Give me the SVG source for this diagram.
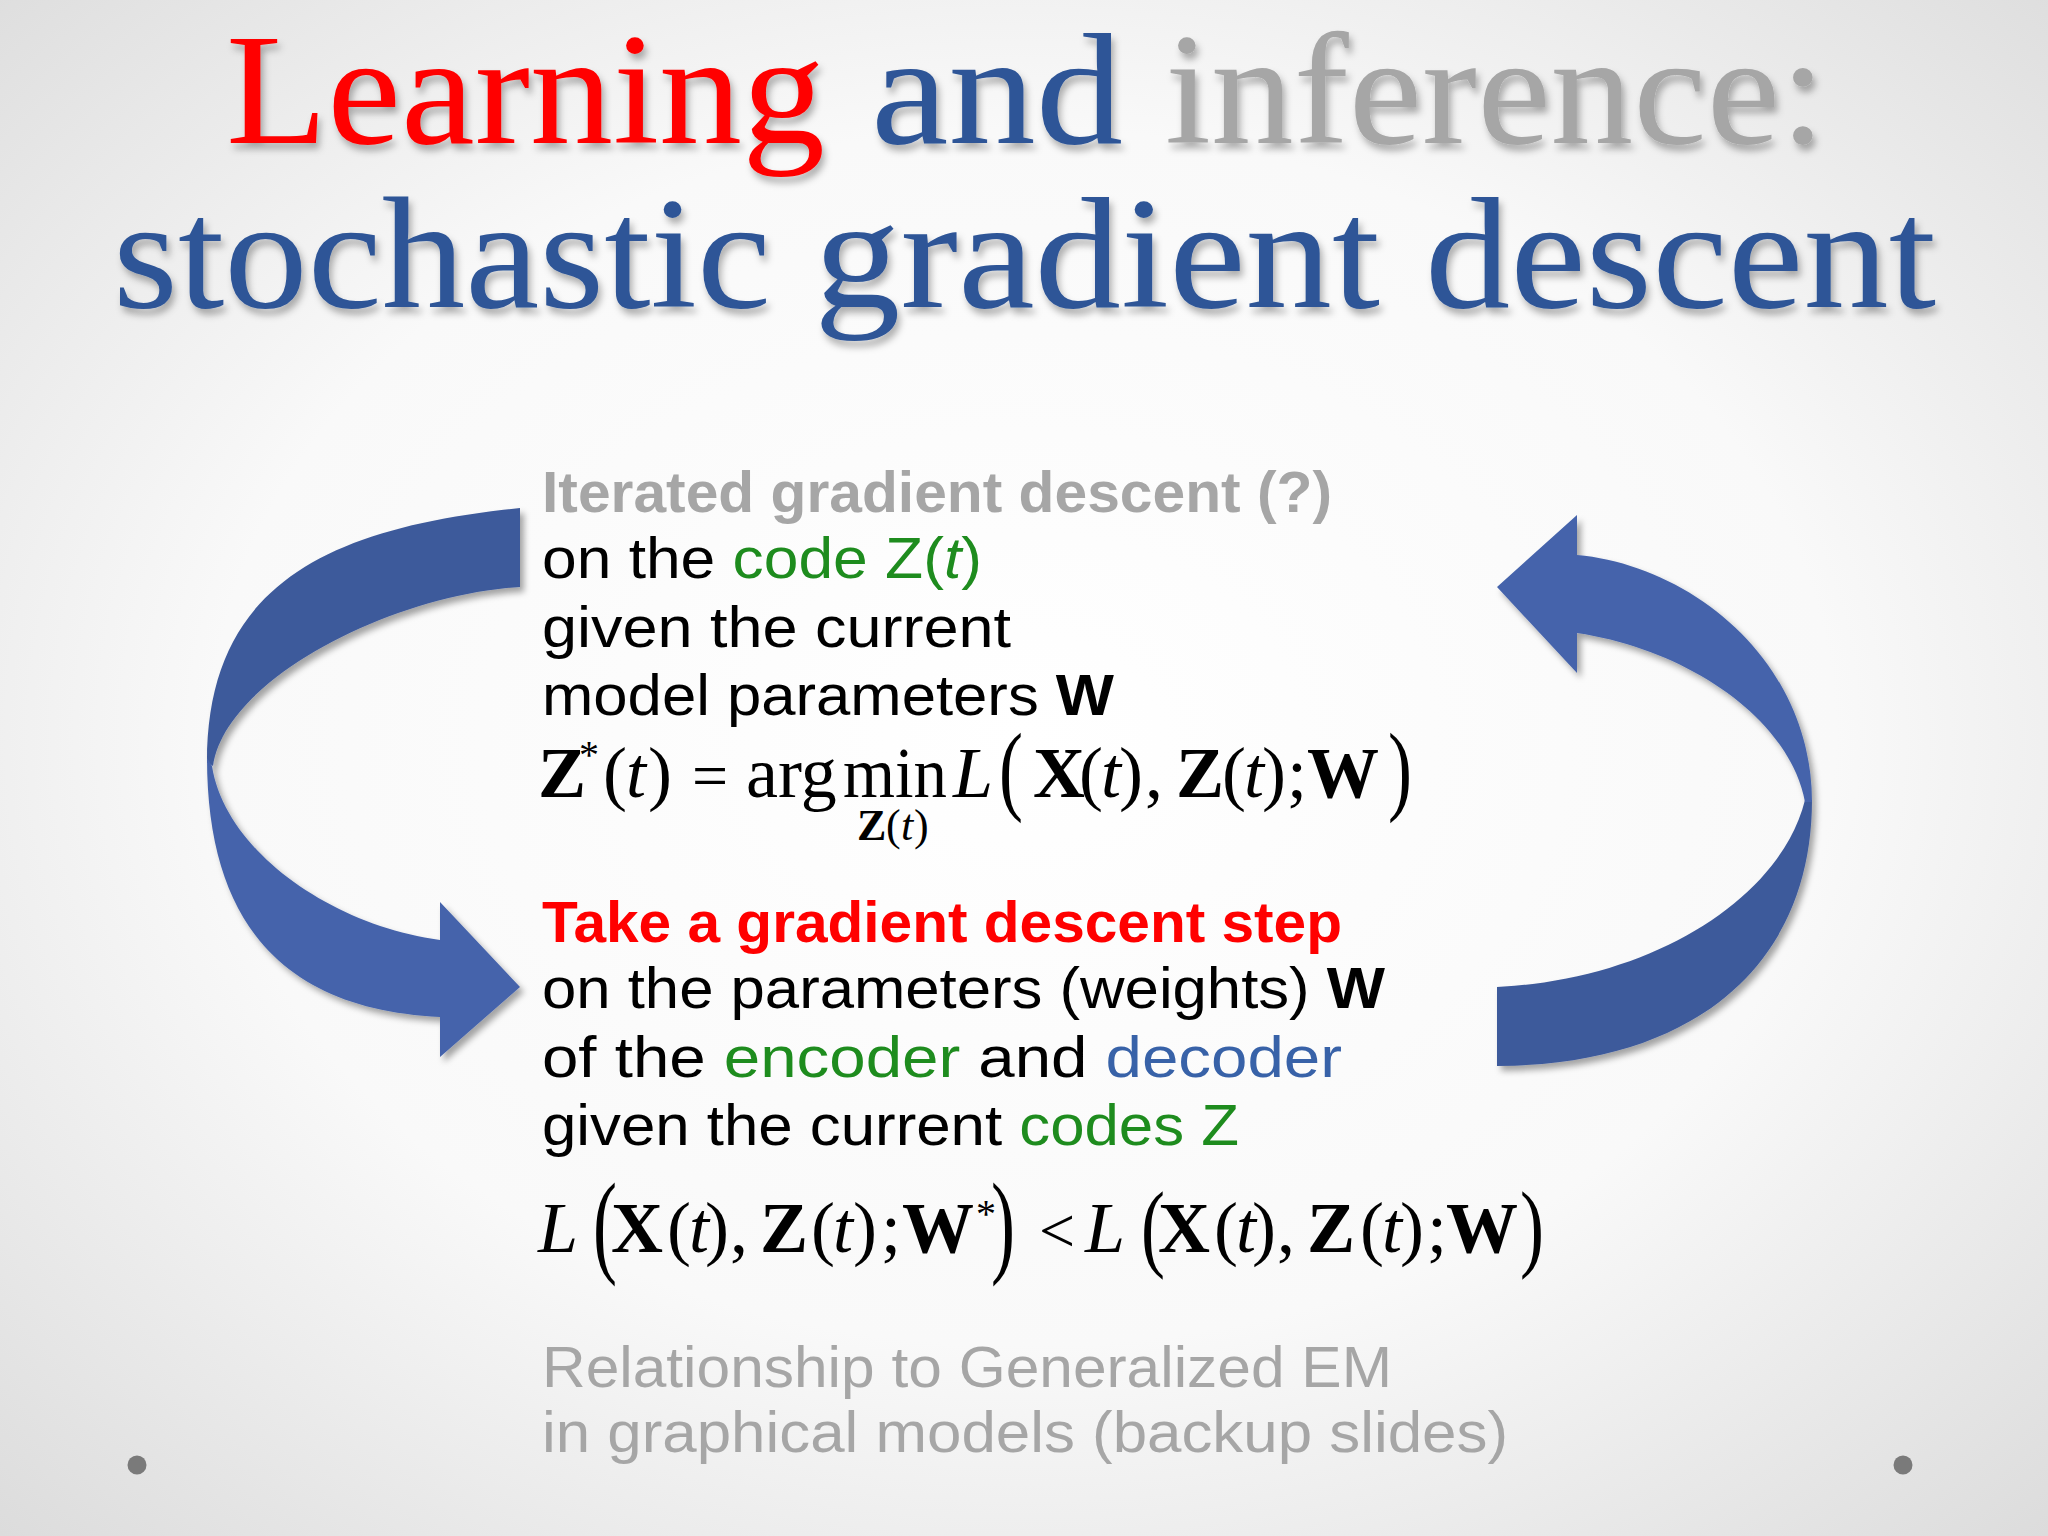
<svg xmlns="http://www.w3.org/2000/svg" width="2048" height="1536" viewBox="0 0 2048 1536">
  <defs>
    <radialGradient id="bg" cx="50%" cy="48%" r="72%">
      <stop offset="0" stop-color="#ffffff"/>
      <stop offset="0.55" stop-color="#f9f9f9"/>
      <stop offset="1" stop-color="#dcdcdc"/>
    </radialGradient>
    <filter id="tshadow" x="-5%" y="-20%" width="110%" height="150%">
      <feDropShadow dx="3" dy="6" stdDeviation="3.5" flood-color="#000" flood-opacity="0.3"/>
    </filter>
    <filter id="ashadow" x="-10%" y="-10%" width="130%" height="130%">
      <feDropShadow dx="4" dy="5" stdDeviation="3" flood-color="#000" flood-opacity="0.35"/>
    </filter>
    <style>
      .title { font-family: "Liberation Serif", "Times New Roman", serif; font-size: 158px; }
      .body { font-family: "Liberation Sans", Arial, sans-serif; font-size: 58px; fill: #000; }
      .eq { font-family: "Liberation Serif", "Times New Roman", serif; font-size: 72px; fill: #000; }
      .sup { font-family: "Liberation Serif", "Times New Roman", serif; font-size: 40px; fill: #000; }
      .sub { font-family: "Liberation Serif", "Times New Roman", serif; font-size: 44px; fill: #000; }
      .b { font-weight: bold; }
      .i { font-style: italic; }
      .green { fill: #1e8c1e; }
      .blue { fill: #3862a8; }
      .gray { fill: #a6a6a6; }
      .red { fill: #ff0000; }
      .back { fill: #3e5a9b; }
      .front { fill: #4563ab; }
    </style>
  </defs>

  <rect x="0" y="0" width="2048" height="1536" fill="url(#bg)"/>

  <g id="title" filter="url(#tshadow)">
    <text class="title" x="226" y="143" fill="#ff0000" textLength="599" lengthAdjust="spacingAndGlyphs">Learning</text>
    <text class="title" x="871" y="143" fill="#2e5597" textLength="252" lengthAdjust="spacingAndGlyphs">and</text>
    <text class="title" x="1165" y="143" fill="#a6a6a6" textLength="661" lengthAdjust="spacingAndGlyphs">inference:</text>
    <text class="title" x="113" y="307" fill="#2e5597" textLength="658" lengthAdjust="spacingAndGlyphs">stochastic</text>
    <text class="title" x="814" y="307" fill="#2e5597" textLength="566" lengthAdjust="spacingAndGlyphs">gradient</text>
    <text class="title" x="1425" y="307" fill="#2e5597" textLength="511" lengthAdjust="spacingAndGlyphs">descent</text>
  </g>

  <g id="connectors">
    <g id="arrow-left" filter="url(#ashadow)">
      <path class="back" d="M520,508 C320,528 207,590 207,762 L213,766 C225,680 390,595 520,587 Z"/>
      <path class="front" d="M212,766 L207,758 C207,930 290,1010 440,1017 L440,1057 L520,987 L440,902 L440,940 C330,925 225,850 212,766 Z"/>
    </g>
    <g id="arrow-right" filter="url(#ashadow)">
      <path class="back" d="M1497,987 L1497,1066 C1700,1065 1812,960 1812,800 L1805,800 C1780,900 1650,980 1497,987 Z"/>
      <path class="front" d="M1812,802 C1812,660 1690,565 1577,555 L1577,515 L1497,587 L1577,673 L1577,633 C1690,650 1790,720 1805,802 Z"/>
    </g>
  </g>

  <g id="node-inference">
    <text class="body b gray" x="542" y="512" textLength="790" lengthAdjust="spacingAndGlyphs">Iterated gradient descent (?)</text>
    <text class="body" x="542" y="578" textLength="440" lengthAdjust="spacingAndGlyphs">on the <tspan class="green">code Z(</tspan><tspan class="green i">t</tspan><tspan class="green">)</tspan></text>
    <text class="body" x="542" y="647" textLength="469" lengthAdjust="spacingAndGlyphs">given the current</text>
    <text class="body" x="542" y="715" textLength="572" lengthAdjust="spacingAndGlyphs">model parameters <tspan class="b">W</tspan></text>
  </g>

  <g id="equation-1">
    <text class="eq" y="797"><tspan class="b" x="538">Z</tspan><tspan x="603">(</tspan><tspan class="i" x="626">t</tspan><tspan x="648">)</tspan><tspan x="692" style="font-size:64px">=</tspan><tspan x="746">arg</tspan><tspan x="843" textLength="104" lengthAdjust="spacingAndGlyphs">min</tspan><tspan class="i" x="953">L</tspan><tspan class="b" x="1033">X</tspan><tspan x="1079">(</tspan><tspan class="i" x="1101">t</tspan><tspan x="1119">)</tspan><tspan x="1145">,</tspan><tspan class="b" x="1176">Z</tspan><tspan x="1222">(</tspan><tspan class="i" x="1244">t</tspan><tspan x="1262">)</tspan><tspan x="1287">;</tspan><tspan class="b" x="1307">W</tspan></text>
    <text class="sup" x="579" y="768">*</text>
    <text class="eq" transform="translate(999,802) scale(1,1.375)">(</text>
    <text class="eq" transform="translate(1388,802) scale(1,1.375)">)</text>
    <text class="sub" y="840"><tspan class="b" x="857">Z</tspan><tspan x="886">(</tspan><tspan class="i" x="901">t</tspan><tspan x="914">)</tspan></text>
  </g>

  <g id="node-learning">
    <text class="body b red" x="542" y="942" textLength="800" lengthAdjust="spacingAndGlyphs">Take a gradient descent step</text>
    <text class="body" x="542" y="1008" textLength="843" lengthAdjust="spacingAndGlyphs">on the parameters (weights) <tspan class="b">W</tspan></text>
    <text class="body" x="542" y="1077" textLength="800" lengthAdjust="spacingAndGlyphs">of the <tspan class="green">encoder</tspan> and <tspan class="blue">decoder</tspan></text>
    <text class="body" x="542" y="1145" textLength="697" lengthAdjust="spacingAndGlyphs">given the current <tspan class="green">codes Z</tspan></text>
  </g>

  <g id="equation-2">
    <text class="eq" y="1252"><tspan class="i" x="538">L</tspan><tspan class="b" x="611">X</tspan><tspan x="667">(</tspan><tspan class="i" x="689">t</tspan><tspan x="705">)</tspan><tspan x="730">,</tspan><tspan class="b" x="760">Z</tspan><tspan x="811">(</tspan><tspan class="i" x="833">t</tspan><tspan x="853">)</tspan><tspan x="881">;</tspan><tspan class="b" x="902">W</tspan><tspan x="1039" style="font-size:64px">&lt;</tspan><tspan class="i" x="1085">L</tspan><tspan class="b" x="1158">X</tspan><tspan x="1214">(</tspan><tspan class="i" x="1236">t</tspan><tspan x="1252">)</tspan><tspan x="1277">,</tspan><tspan class="b" x="1307">Z</tspan><tspan x="1360">(</tspan><tspan class="i" x="1382">t</tspan><tspan x="1400">)</tspan><tspan x="1427">;</tspan><tspan class="b" x="1446">W</tspan></text>
    <text class="sup" x="976" y="1227">*</text>
    <text class="eq" transform="translate(593,1262) scale(1,1.6)">(</text>
    <text class="eq" transform="translate(991,1262) scale(1,1.6)">)</text>
    <text class="eq" transform="translate(1141,1259) scale(1,1.345)">(</text>
    <text class="eq" transform="translate(1520,1259) scale(1,1.345)">)</text>
  </g>

  <g id="node-note">
    <text class="body gray" x="542" y="1387" textLength="850" lengthAdjust="spacingAndGlyphs">Relationship to Generalized EM</text>
    <text class="body gray" x="542" y="1452" textLength="966" lengthAdjust="spacingAndGlyphs">in graphical models (backup slides)</text>
  </g>

  <g id="bullets" fill="#7a7a7a">
    <circle cx="137" cy="1465" r="9.5"/>
    <circle cx="1903" cy="1465" r="9.5"/>
  </g>
</svg>
